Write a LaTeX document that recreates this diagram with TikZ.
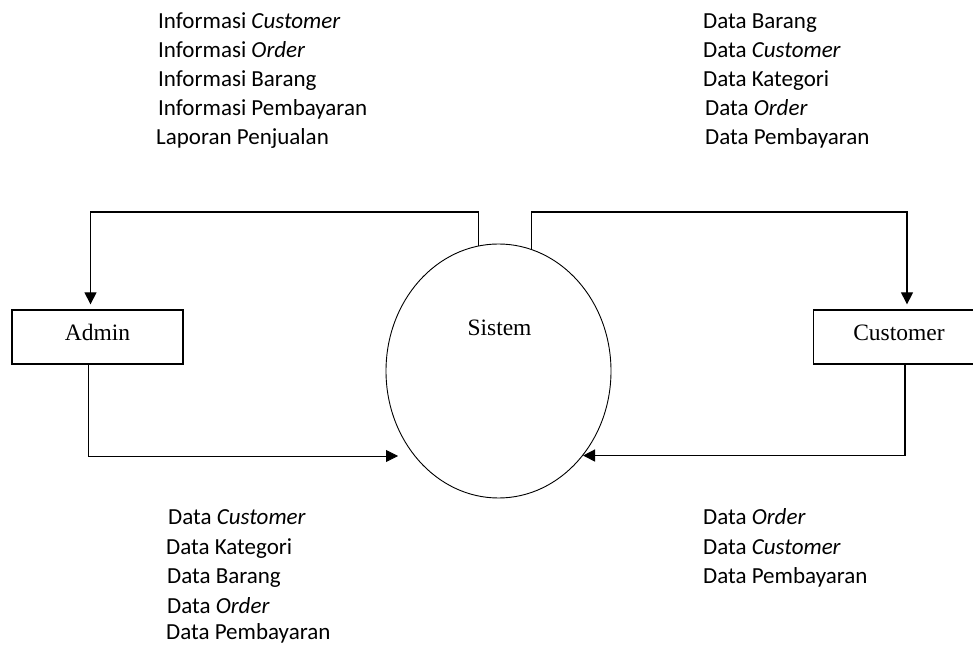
\documentclass[tikz,border=0pt]{standalone}
\usepackage{fontspec}
\setmainfont{Liberation Serif}
\newfontfamily\calibrifont{Carlito}
\usetikzlibrary{arrows.meta,shapes.geometric}

\tikzset{
  entity/.style={draw, line width=1.3pt, minimum width=171pt, minimum height=54pt, inner sep=0pt, text height=16pt, text depth=9pt, font=\fontsize{23.5}{28}\selectfont},
  process/.style={draw, ellipse, line width=0.9pt, minimum width=225pt, minimum height=254pt, inner sep=0pt},
  flow/.style={line width=1.2pt, -{Triangle[length=12pt,width=12pt]}},
  datatext/.style={anchor=base west, inner sep=0pt, font=\calibrifont\fontsize{23}{28}\selectfont}
}

\begin{document}
\begin{tikzpicture}[x=1pt,y=1pt]
\useasboundingbox (0,0) rectangle (973,645);
\clip (0,0) rectangle (973,645);

% Entities and process
\node[entity] (adm) at (97.5,308) {Admin};
\node[entity] (cust) at (899,308) {Customer};
\node[process] (sys) at (498.5,274) {};
\node[anchor=base, inner sep=0pt, font=\fontsize{23.5}{28}\selectfont] (sys-label) at (499.5,309) {Sistem};

% Data flows
\coordinate (top) at (0,433);
\coordinate (adm-in) at (398,189);
\draw[flow] (sys.99.3) -- (sys.99.3 |- top) -| ([xshift=-7pt,yshift=5pt]adm.north);
\draw[flow] (sys.75.3) -- (sys.75.3 |- top) -| ([xshift=8pt,yshift=5pt]cust.north);
\draw[flow, line width=0.8pt] ([xshift=-9pt]adm.south) |- (adm-in);
\draw[flow, line width=1.5pt] ([xshift=6pt]cust.south) |- (sys.-45.5);

% Text to admin
\node[datatext] (adm-out1) at (158,616.5) {Informasi \textit{Customer}};
\node[datatext] (adm-out2) at (158,587) {Informasi \textit{Order}};
\node[datatext] (adm-out3) at (158,558.5) {Informasi Barang};
\node[datatext] (adm-out4) at (158,529) {Informasi Pembayaran};
\node[datatext] (adm-out5) at (156,500.5) {Laporan Penjualan};

% Text to customer
\node[datatext] (cust-out1) at (703,616.5) {Data Barang};
\node[datatext] (cust-out2) at (703,587) {Data \textit{Customer}};
\node[datatext] (cust-out3) at (703,558.5) {Data Kategori};
\node[datatext] (cust-out4) at (705,529) {Data \textit{Order}};
\node[datatext] (cust-out5) at (705,500.5) {Data Pembayaran};

% Text from admin
\node[datatext] (adm-in1) at (168,120.5) {Data \textit{Customer}};
\node[datatext] (adm-in2) at (166,90.5) {Data Kategori};
\node[datatext] (adm-in3) at (167,61.5) {Data Barang};
\node[datatext] (adm-in4) at (167,31.5) {Data \textit{Order}};
\node[datatext] (adm-in5) at (166,5.5) {Data Pembayaran};

% Text from customer
\node[datatext] (cust-in1) at (703,120.5) {Data \textit{Order}};
\node[datatext] (cust-in2) at (703,90.5) {Data \textit{Customer}};
\node[datatext] (cust-in3) at (703,61.5) {Data Pembayaran};
\end{tikzpicture}
\end{document}
